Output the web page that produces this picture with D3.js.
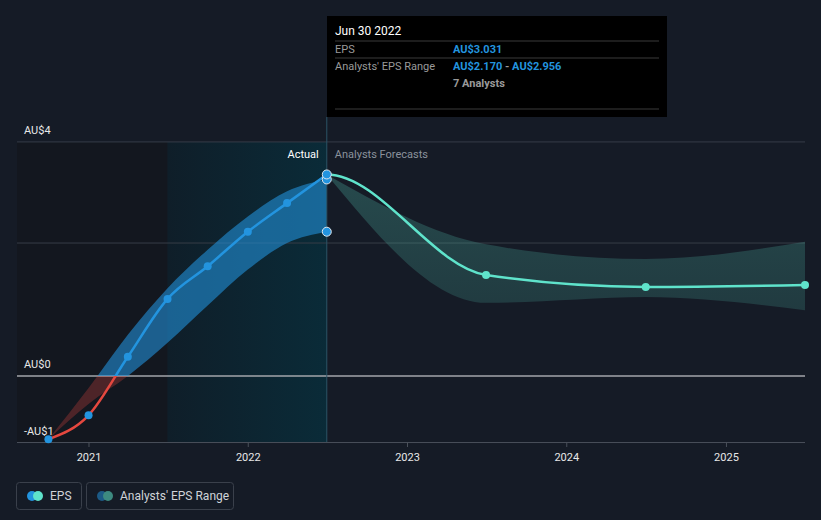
<!DOCTYPE html>
<html><head><meta charset="utf-8">
<script src="https://cdn.jsdelivr.net/npm/d3@7"></script>
<style>
html,body{margin:0;padding:0;background:#151b26;}
svg{display:block;font-family:Roboto,"Noto Sans",sans-serif;}
</style></head>
<body>
<svg id="chart" width="821" height="520"></svg>
<script>
// ---- data ----
const actualDates = ["2020-09-30","2020-12-31","2021-03-31","2021-06-30","2021-09-30","2021-12-31","2022-03-31","2022-06-30"];
const actualEPS   = [-0.95,-0.59,0.29,1.16,1.65,2.17,2.60,3.031];
const actualLow   = [-0.95,-0.42,0.00,0.50,1.06,1.60,2.00,2.170];
const actualHigh  = [-0.95,-0.18,0.62,1.32,1.90,2.40,2.78,2.956];
const forecastDates = ["2022-06-30","2023-06-30","2024-06-30","2025-06-30"];
const forecastEPS   = [3.031,1.52,1.34,1.37];
const forecastLow   = [3.031,1.10,1.19,0.99];
const forecastHigh  = [3.031,1.98,1.76,2.02];
const yTickValues = [3.52,2,0,-1];
const yTickLabels = ["AU$4","","AU$0","-AU$1"];
const xTickYears = [2021,2022,2023,2024,2025];
const tooltipDate = "Jun 30 2022";
const tooltipEPS = "AU$3.031";
const tooltipRangeLow = "AU$2.170";
const tooltipRangeHigh = "AU$2.956";
const tooltipAnalysts = "7 Analysts";
const legendLabels = ["EPS","Analysts' EPS Range"];

(function(){
const parse = d3.timeParse("%Y-%m-%d");
const actual = actualDates.map((d,i)=>({date:parse(d),v:actualEPS[i],lo:actualLow[i],hi:actualHigh[i]}));
const forecast = forecastDates.map((d,i)=>({date:parse(d),v:forecastEPS[i],lo:forecastLow[i],hi:forecastHigh[i]}));

const svg = d3.select("#chart");
const x = d3.scaleTime().domain([parse("2020-07-20"),parse("2025-06-30")]).range([17,805]);
const y = d3.scaleLinear().domain([-0.992,3.519]).range([442,142]);
const yTop = y(3.519), yBot = y(-0.992);
const defs = svg.append("defs");

const grad = defs.append("linearGradient").attr("id","hl").attr("x1","0").attr("x2","1").attr("y1","0").attr("y2","0");
grad.append("stop").attr("offset","0").attr("stop-color","#0f1e29");
grad.append("stop").attr("offset","1").attr("stop-color","#0a2b38");

const fgrad = defs.append("linearGradient").attr("id","fb").attr("x1","0").attr("x2","0").attr("y1","0").attr("y2","1");
fgrad.append("stop").attr("offset","0").attr("stop-color","#4fb8a8").attr("stop-opacity",0.3);
fgrad.append("stop").attr("offset","1").attr("stop-color","#4fb8a8").attr("stop-opacity",0.2);

const xPastStart = x.range()[0];
const xHl0 = x(parse("2021-06-30")), xNow = x(parse("2022-06-30"));

// backgrounds
svg.append("rect").attr("x",xPastStart).attr("y",yTop).attr("width",xHl0-xPastStart).attr("height",yBot-yTop).attr("fill","#13171f");
svg.append("rect").attr("x",xHl0).attr("y",yTop).attr("width",xNow-xHl0).attr("height",yBot-yTop).attr("fill","url(#hl)");

// gridlines
yTickValues.forEach((v,i)=>{
  svg.append("line").attr("x1",17).attr("x2",805).attr("y1",y(v)).attr("y2",y(v))
    .attr("stroke", v===0 ? "#a3a6ab" : (v===-1 ? "#4a505a" : "#363c47")).attr("stroke-width", v===0?1.5:1);
  if(yTickLabels[i]) svg.append("text").attr("x",24).attr("y",y(v)-8).attr("fill","#e8e8e8").attr("font-size",11).text(yTickLabels[i]);
});

// x axis ticks
xTickYears.forEach(yv=>{
  const d = new Date(yv,0,1);
  svg.append("line").attr("x1",x(d)).attr("x2",x(d)).attr("y1",yBot).attr("y2",yBot+5).attr("stroke","#4a505a");
  svg.append("text").attr("x",x(d)).attr("y",461).attr("text-anchor","middle").attr("fill","#e8e8e8").attr("font-size",11).text(yv);
});

// clips for red/blue
defs.append("clipPath").attr("id","above").append("rect").attr("x",0).attr("y",0).attr("width",821).attr("height",y(0));
defs.append("clipPath").attr("id","below").append("rect").attr("x",0).attr("y",y(0)).attr("width",821).attr("height",520-y(0));
defs.append("clipPath").attr("id","future").append("rect").attr("x",xNow).attr("y",0).attr("width",821-xNow).attr("height",520);

const area = d3.area().x(d=>x(d.date)).y0(d=>y(d.lo)).y1(d=>y(d.hi)).curve(d3.curveMonotoneX);
const line = d3.line().x(d=>x(d.date)).y(d=>y(d.v)).curve(d3.curveMonotoneX);

// actual band
svg.append("path").datum(actual).attr("d",area).attr("fill","#2394df").attr("fill-opacity",0.58).attr("clip-path","url(#above)");
svg.append("path").datum(actual).attr("d",area).attr("fill","#e5483f").attr("fill-opacity",0.28).attr("clip-path","url(#below)");
// forecast band
svg.append("path").datum(forecast).attr("d",area).attr("fill","url(#fb)");

// vertical now line
svg.append("line").attr("x1",xNow).attr("x2",xNow).attr("y1",117).attr("y2",yBot).attr("stroke","#2c5466").attr("stroke-width",1);

// actual line
svg.append("path").datum(actual).attr("d",line).attr("fill","none").attr("stroke","#2394df").attr("stroke-width",2.5).attr("clip-path","url(#above)");
svg.append("path").datum(actual).attr("d",line).attr("fill","none").attr("stroke","#e5483f").attr("stroke-width",2.5).attr("clip-path","url(#below)");
// forecast line (continuous monotone with last actual)
const fline = [actual[actual.length-2]].concat(forecast);
svg.append("path").datum(fline).attr("d",line).attr("fill","none").attr("stroke","#5fe3cb").attr("stroke-width",2.5).attr("clip-path","url(#future)");

// points
svg.selectAll(".ap").data(actual.slice(0,-1)).join("circle").attr("cx",d=>x(d.date)).attr("cy",d=>y(d.v)).attr("r",4).attr("fill","#2394df");
svg.selectAll(".fp").data(forecast.slice(1)).join("circle").attr("cx",d=>x(d.date)).attr("cy",d=>y(d.v)).attr("r",4).attr("fill","#5fe3cb");
const last = actual[actual.length-1];
[last.lo,last.hi,last.v].forEach(v=>{
  svg.append("circle").attr("cx",xNow).attr("cy",y(v)).attr("r",4.5).attr("fill","#2394df").attr("stroke","#dfe8ee").attr("stroke-width",1);
});

// labels
svg.append("text").attr("x",xNow-8).attr("y",158).attr("text-anchor","end").attr("fill","#ffffff").attr("font-size",11).text("Actual");
svg.append("text").attr("x",xNow+8).attr("y",158).attr("fill","#8b929c").attr("font-size",11).text("Analysts Forecasts");

// tooltip
const tt = svg.append("g");
tt.append("rect").attr("x",327).attr("y",16).attr("width",340).attr("height",101).attr("fill","#000");
tt.append("text").attr("x",335).attr("y",35).attr("fill","#fff").attr("font-size",12).text(tooltipDate);
[41,58,109].forEach(yy=>tt.append("line").attr("x1",335).attr("x2",659).attr("y1",yy).attr("y2",yy).attr("stroke","#3a3a3a"));
tt.append("text").attr("x",335).attr("y",53).attr("fill","#9a9a9a").attr("font-size",11).text("EPS");
tt.append("text").attr("x",453).attr("y",53).attr("fill","#2394df").attr("font-size",11).attr("font-weight","bold").text(tooltipEPS);
tt.append("text").attr("x",335).attr("y",70).attr("fill","#9a9a9a").attr("font-size",11).text("Analysts' EPS Range");
const rt = tt.append("text").attr("x",453).attr("y",70).attr("font-size",11).attr("font-weight","bold");
rt.append("tspan").attr("fill","#2394df").text(tooltipRangeLow);
rt.append("tspan").attr("fill","#9a9a9a").text(" - ");
rt.append("tspan").attr("fill","#2394df").text(tooltipRangeHigh);
tt.append("text").attr("x",453).attr("y",87).attr("fill","#9a9a9a").attr("font-size",11).attr("font-weight","bold").text(tooltipAnalysts);

// legend
const lg = svg.append("g");
lg.append("rect").attr("x",16.5).attr("y",482.5).attr("width",65).attr("height",27).attr("rx",3).attr("fill","none").attr("stroke","#3a404b");
lg.append("circle").attr("cx",32).attr("cy",496).attr("r",5).attr("fill","#2394df");
lg.append("circle").attr("cx",38).attr("cy",496).attr("r",5).attr("fill","#5fe3cb");
lg.append("text").attr("x",50).attr("y",500).attr("fill","#d0d3d8").attr("font-size",12).text(legendLabels[0]);
lg.append("rect").attr("x",86.5).attr("y",482.5).attr("width",147).attr("height",27).attr("rx",3).attr("fill","none").attr("stroke","#3a404b");
lg.append("circle").attr("cx",102).attr("cy",496).attr("r",5).attr("fill","#1c5a86");
lg.append("circle").attr("cx",108).attr("cy",496).attr("r",5).attr("fill","#3d8a80");
lg.append("text").attr("x",120).attr("y",500).attr("fill","#d0d3d8").attr("font-size",12).text(legendLabels[1]);
})();
</script>
</body></html>
